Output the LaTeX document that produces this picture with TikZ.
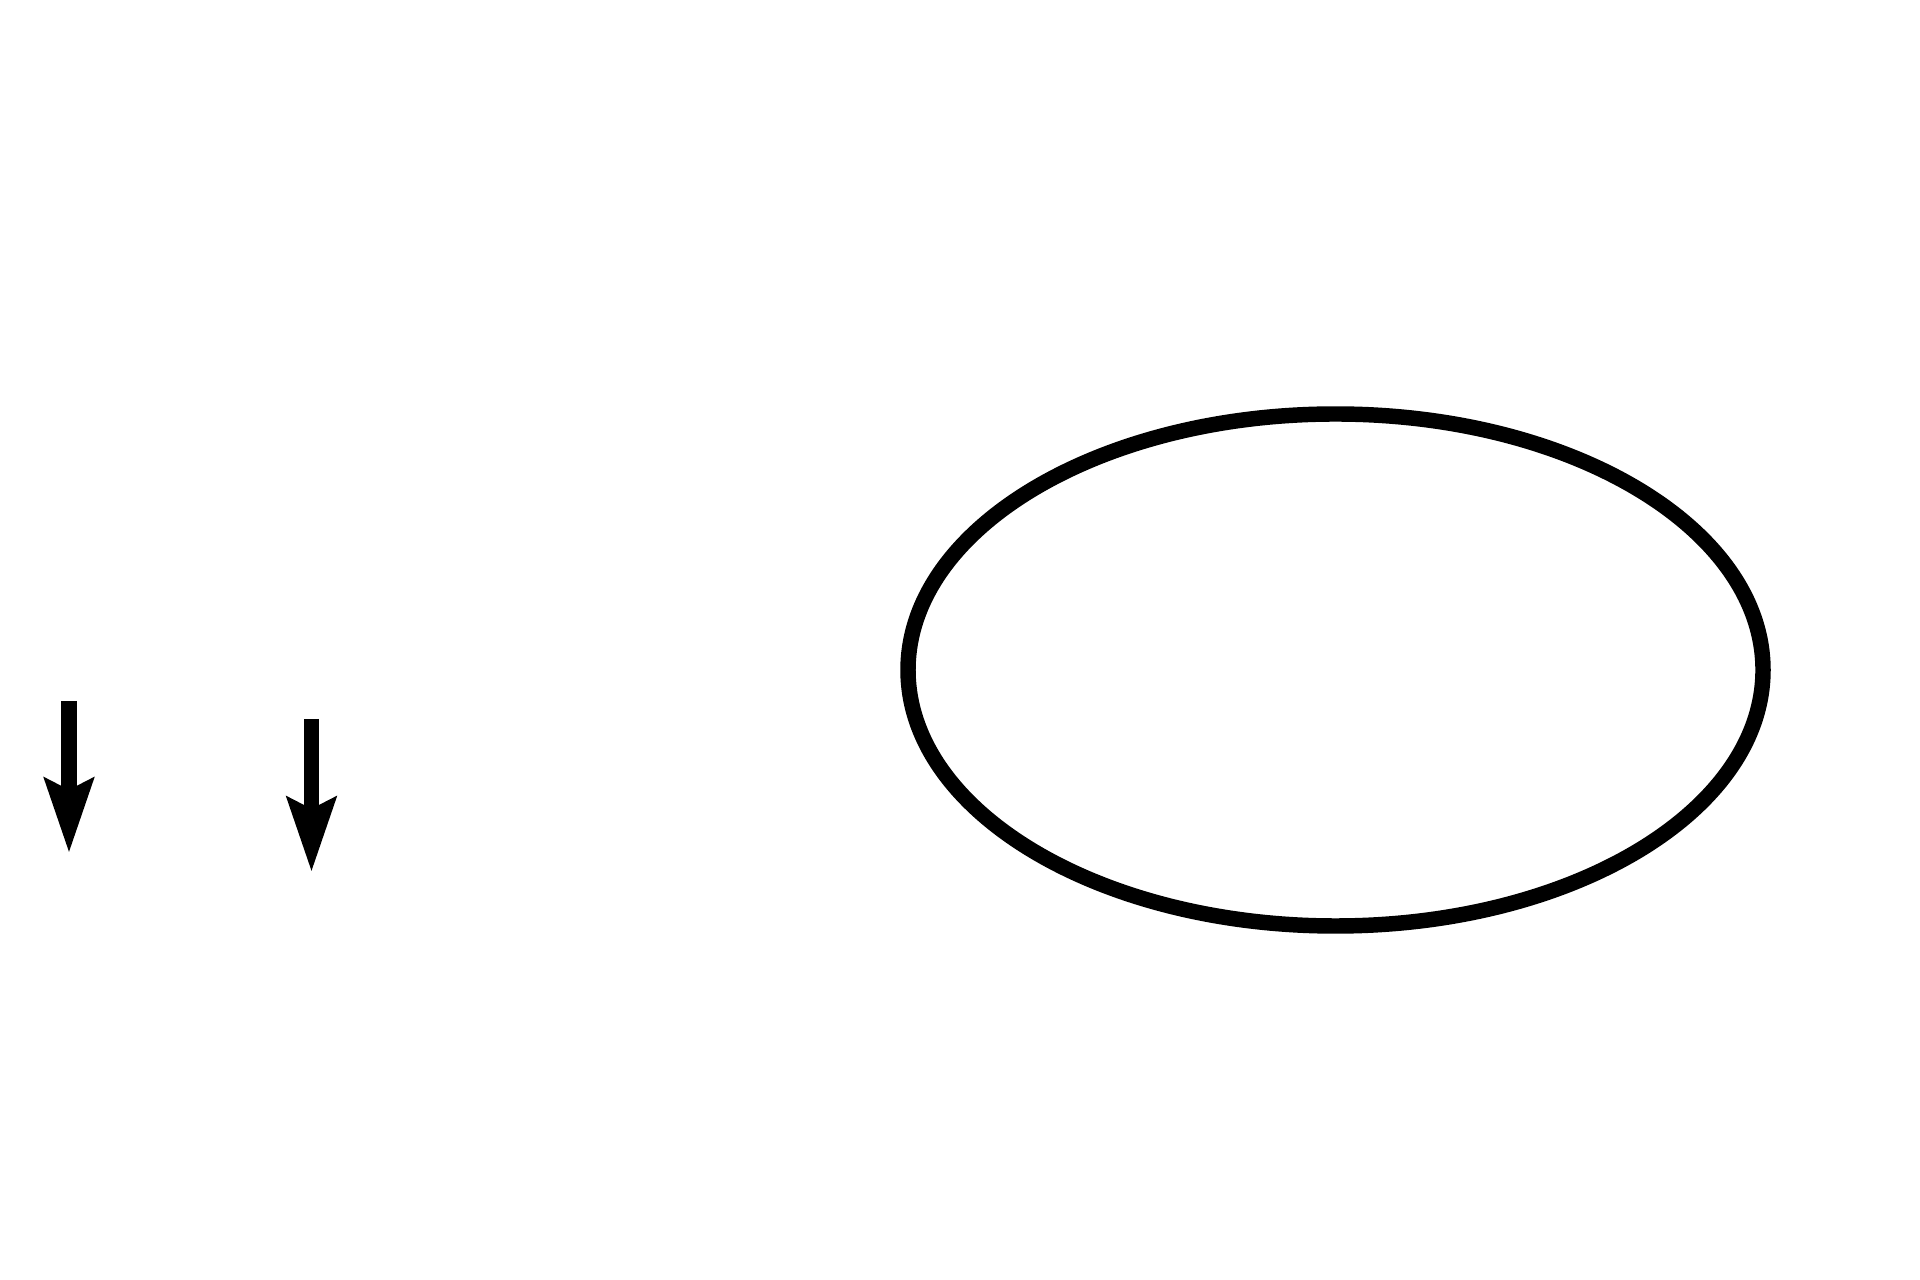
\documentclass[tikz,border=0pt]{standalone}
\usetikzlibrary{shapes.geometric,arrows.meta}
\begin{document}
\begin{tikzpicture}[
  every node/.style={ellipse, draw=black, line width=4.4pt, inner sep=0pt, fill=white},
  line/.style={-{Stealth[length=0.74cm, width=0.48cm, inset=0.11cm]}, line width=4.3pt, draw=black}
]
\useasboundingbox (0,0) rectangle (19.2,-12.8);

\node (oval) [minimum width=8.55cm, minimum height=5.12cm] at (13.355,-6.70) {};

% Arrows
\coordinate (top1) at (0.69,-7.01);
\coordinate (tip1) at (0.69,-8.53);
\coordinate (top2) at (3.115,-7.19);
\coordinate (tip2) at (3.115,-8.72);

\draw [line] (top1) -- (tip1);
\draw [line] (top2) -- (tip2);

\end{tikzpicture}
\end{document}
